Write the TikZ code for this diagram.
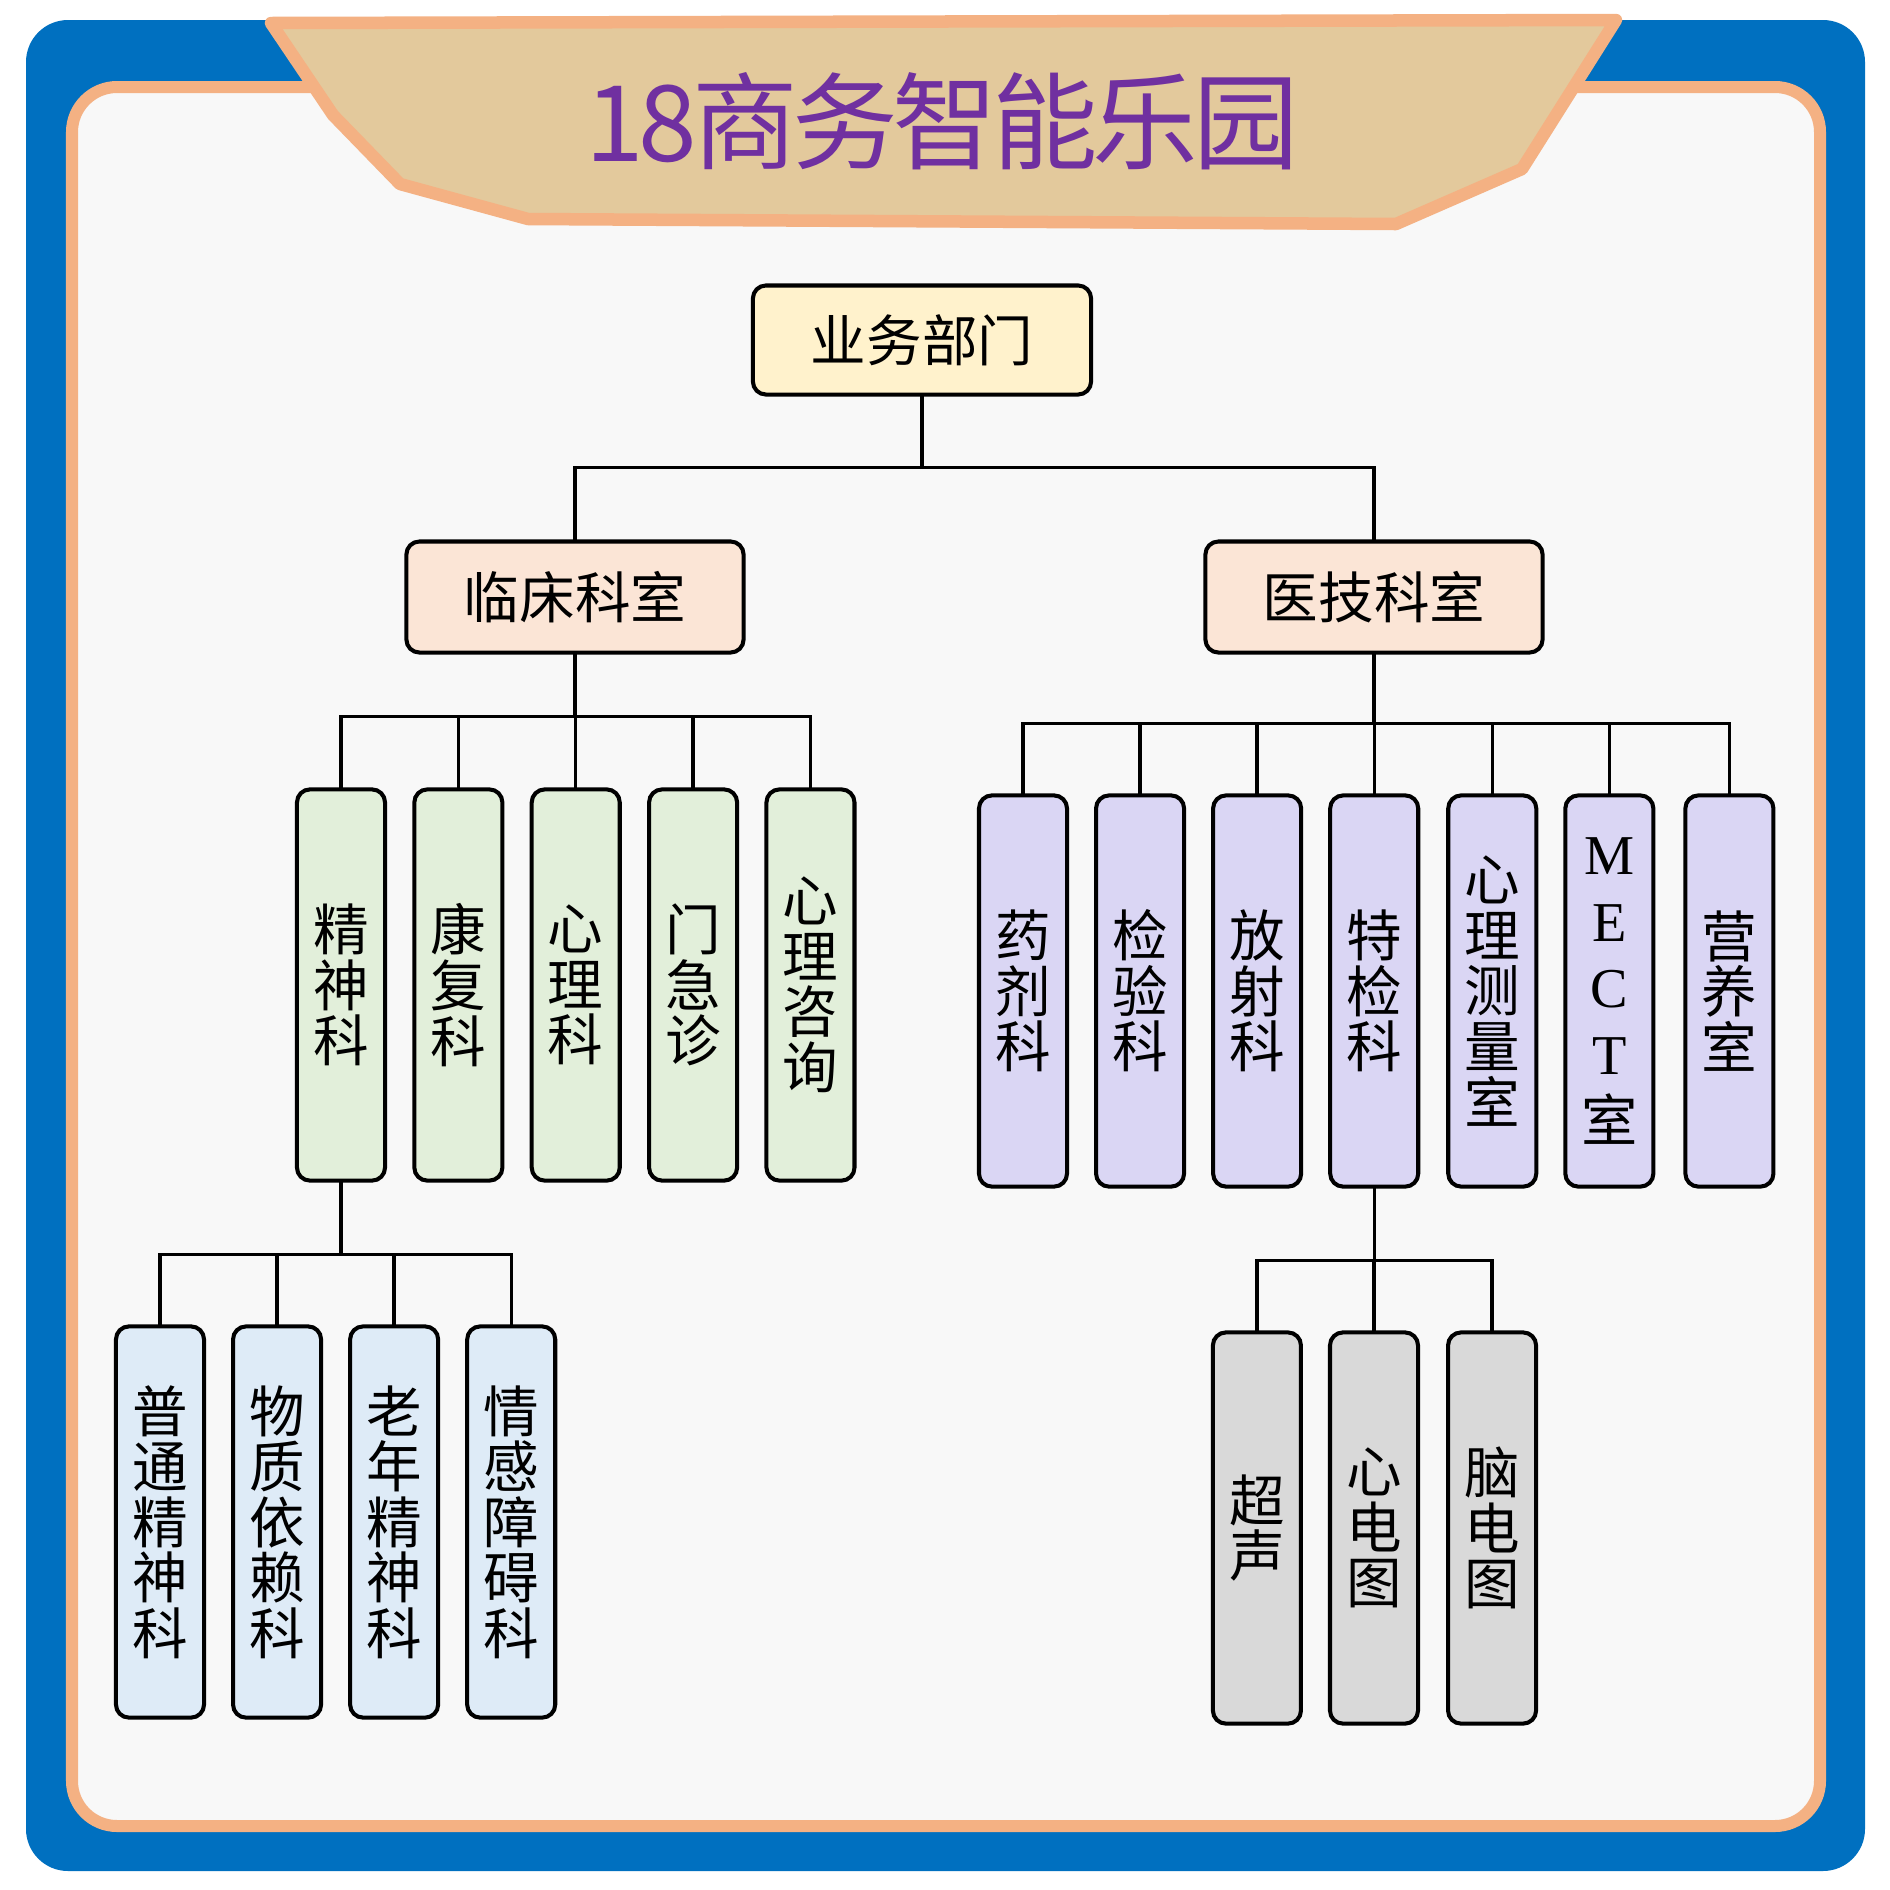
\documentclass[tikz,border=0pt]{standalone}
\usepackage{fontspec}
\setmainfont{Noto Sans CJK SC}
\newfontfamily\titlefont[LetterSpace=-5]{Noto Sans CJK SC}
\newfontfamily\latinfont{Liberation Serif}
\usetikzlibrary{positioning}
\definecolor{frameblue}{HTML}{0070C0}
\definecolor{framepeach}{HTML}{F4B183}
\definecolor{innerbg}{HTML}{F8F8F8}
\definecolor{bannerfill}{HTML}{E3C99C}
\definecolor{titlepurple}{HTML}{7030A0}
\definecolor{rootfill}{HTML}{FFF2CC}
\definecolor{groupfill}{HTML}{FBE5D6}
\definecolor{greenfill}{HTML}{E2EFDA}
\definecolor{lilacfill}{HTML}{DAD6F4}
\definecolor{bluefill}{HTML}{DEEBF7}
\definecolor{grayfill}{HTML}{D9D9D9}

\begin{document}
\begin{tikzpicture}[
  x=0.01cm, y=-0.01cm,
  box/.style={draw=black, line width=1.15pt, rounded corners=0.13cm, align=center, inner sep=0pt, outer sep=0pt, font=\fontsize{15.8pt}{15.8pt}\selectfont},
  rootbox/.style={box, fill=rootfill, minimum width=3.38cm, minimum height=1.09cm},
  groupbox/.style={box, fill=groupfill, minimum width=3.37cm, minimum height=1.11cm},
  leaf/.style={box, minimum width=0.88cm, minimum height=3.91cm, text width=0.88cm},
  link/.style={line width=0.95pt}
]
  \useasboundingbox (0,0) rectangle (1890,1890);
  % frame and banner
  \fill[frameblue, rounded corners=0.42cm] (26,20) rectangle (1865,1871);
  \draw[draw=framepeach, fill=innerbg, line width=0.12cm, rounded corners=0.45cm] (72,87) rectangle (1820,1826);
  \draw[draw=framepeach, fill=bannerfill, line width=0.125cm, line join=round]
    (271,23) -- (1616,20) -- (1522,169) -- (1396,224) -- (528,219) -- (400,184) -- (333,115) -- cycle;
  \node[font=\titlefont\fontsize{30pt}{30pt}\selectfont, text=titlepurple] (title) at (942,121) {18商务智能乐园};

  % top levels
  \node[rootbox] (biz) at (922,340) {业务部门};
  \node[groupbox] (clin) at (575,597) {临床科室};
  \node[groupbox] (tech) at (1374,597) {医技科室};

  % clinical departments
  \node[leaf, fill=greenfill] (jsk) at (341,985) {精\\神\\科};
  \node[leaf, fill=greenfill, right=0.293cm of jsk] (kfk) {康\\复\\科};
  \node[leaf, fill=greenfill, right=0.293cm of kfk] (xlk) {心\\理\\科};
  \node[leaf, fill=greenfill, right=0.293cm of xlk] (mjz) {门\\急\\诊};
  \node[leaf, fill=greenfill, right=0.293cm of mjz] (xlzx) {心\\理\\咨\\询};

  % medical technology departments
  \node[leaf, fill=lilacfill] (yjk) at (1023,991) {药\\剂\\科};
  \node[leaf, fill=lilacfill, right=0.29cm of yjk] (jyk) {检\\验\\科};
  \node[leaf, fill=lilacfill, right=0.29cm of jyk] (fsk) {放\\射\\科};
  \node[leaf, fill=lilacfill, right=0.29cm of fsk] (tjk) {特\\检\\科};
  \node[leaf, fill=lilacfill, right=0.30cm of tjk] (xlcl) {心\\理\\测\\量\\室};
  \node[leaf, fill=lilacfill, right=0.29cm of xlcl, font=\fontsize{16pt}{19pt}\selectfont] (mect) {{\latinfont M}\\{\latinfont E}\\{\latinfont C}\\{\latinfont T}\\室};
  \node[leaf, fill=lilacfill, right=0.32cm of mect] (yys) {营\\养\\室};

  % psychiatry sub-units
  \node[leaf, fill=bluefill] (ptjs) at (160,1522) {普\\通\\精\\神\\科};
  \node[leaf, fill=bluefill, right=0.29cm of ptjs] (wzyl) {物\\质\\依\\赖\\科};
  \node[leaf, fill=bluefill, right=0.29cm of wzyl] (lnjs) {老\\年\\精\\神\\科};
  \node[leaf, fill=bluefill, right=0.29cm of lnjs] (qgza) {情\\感\\障\\碍\\科};

  % special examination sub-units
  \node[leaf, fill=grayfill] (xdt) at (1374,1528) {心\\电\\图};
  \node[leaf, fill=grayfill, left=0.29cm of xdt] (csh) {超\\声};
  \node[leaf, fill=grayfill, right=0.30cm of xdt] (ndt) {脑\\电\\图};

  % connectors
  \draw[link] (biz.south) -- ++(0,-0.73cm) -| (clin.north);
  \draw[link] (biz.south) -- ++(0,-0.73cm) -| (tech.north);

  \draw[link] (clin.south) -- ++(0,-0.64cm) -| (jsk.north);
  \draw[link] (clin.south) -- ++(0,-0.64cm) -| (kfk.north);
  \draw[link] (clin.south) -- ++(0,-0.64cm) -| (xlk.north);
  \draw[link] (clin.south) -- ++(0,-0.64cm) -| (mjz.north);
  \draw[link] (clin.south) -- ++(0,-0.64cm) -| (xlzx.north);

  \draw[link] (tech.south) -- ++(0,-0.71cm) -| (yjk.north);
  \draw[link] (tech.south) -- ++(0,-0.71cm) -| (jyk.north);
  \draw[link] (tech.south) -- ++(0,-0.71cm) -| (fsk.north);
  \draw[link] (tech.south) -- ++(0,-0.71cm) -| (tjk.north);
  \draw[link] (tech.south) -- ++(0,-0.71cm) -| (xlcl.north);
  \draw[link] (tech.south) -- ++(0,-0.71cm) -| (mect.north);
  \draw[link] (tech.south) -- ++(0,-0.71cm) -| (yys.north);

  \draw[link] (jsk.south) -- ++(0,-0.74cm) -| (ptjs.north);
  \draw[link] (jsk.south) -- ++(0,-0.74cm) -| (wzyl.north);
  \draw[link] (jsk.south) -- ++(0,-0.74cm) -| (lnjs.north);
  \draw[link] (jsk.south) -- ++(0,-0.74cm) -| (qgza.north);

  \draw[link] (tjk.south) -- ++(0,-0.74cm) -| (csh.north);
  \draw[link] (tjk.south) -- ++(0,-0.74cm) -| (xdt.north);
  \draw[link] (tjk.south) -- ++(0,-0.74cm) -| (ndt.north);
\end{tikzpicture}
\end{document}
